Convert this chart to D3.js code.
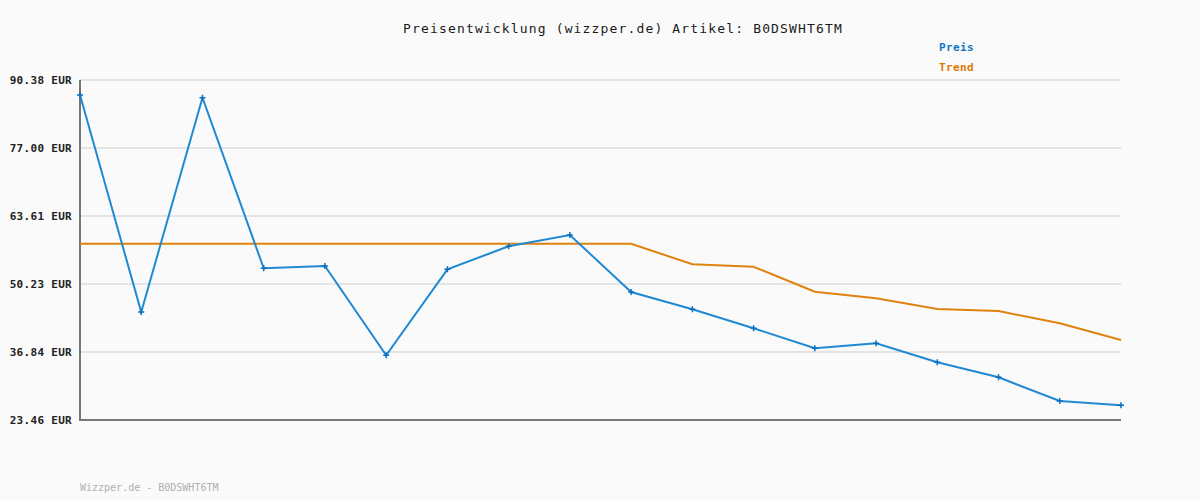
<!DOCTYPE html>
<html>
<head>
<meta charset="utf-8">
<script src="https://cdn.jsdelivr.net/npm/d3@7"></script>
<style>
  body { margin: 0; background: #fafafa; }
  svg { display: block; font-family: "DejaVu Sans Mono", monospace; }
</style>
</head>
<body>
<div id="chart"></div>
<script>
const width = 1200;
const height = 500;

const tickValues = [23.46, 36.84, 50.23, 63.61, 77.00, 90.38];
const preis = [87.43, 44.72, 86.90, 53.32, 53.77, 36.19, 53.12, 57.65, 59.87,
  48.65, 45.25, 41.51, 37.57, 38.56, 34.82, 31.86, 27.20, 26.35];
const trend = [58.16, 58.16, 58.16, 58.16, 58.16, 58.16, 58.16, 58.16, 58.16,
  58.16, 54.11, 53.63, 48.71, 47.41, 45.31, 44.91, 42.49, 39.21];

const margin = { left: 80, right: 79, top: 80, bottom: 80 };

const svg = d3.select("#chart").append("svg")
  .attr("width", width)
  .attr("height", height);

svg.append("rect").attr("width", width).attr("height", height).attr("fill", "#fafafa");

const x = d3.scaleLinear()
  .domain([0, preis.length - 1])
  .range([margin.left, width - margin.right]);

const y = d3.scaleLinear()
  .domain([tickValues[0], tickValues[tickValues.length - 1]])
  .range([height - margin.bottom, margin.top]);

// grid lines
svg.append("g")
  .selectAll("line")
  .data(tickValues)
  .join("line")
  .attr("x1", margin.left)
  .attr("x2", width - margin.right)
  .attr("y1", d => y(d))
  .attr("y2", d => y(d))
  .attr("stroke", "#e4e4e4")
  .attr("stroke-width", 2);

// y axis labels
const yAxis = d3.axisLeft(y)
  .tickValues(tickValues)
  .tickSize(0)
  .tickPadding(8)
  .tickFormat(d => d.toFixed(2) + " EUR");

svg.append("g")
  .attr("transform", `translate(${margin.left},0)`)
  .call(yAxis)
  .call(g => g.select(".domain").remove())
  .selectAll("text")
  .attr("font-family", "DejaVu Sans Mono, monospace")
  .attr("font-size", "11px")
  .attr("font-weight", "bold")
  .attr("letter-spacing", "0.3px")
  .attr("fill", "#222");

// axes lines
svg.append("line")
  .attr("x1", margin.left).attr("x2", margin.left)
  .attr("y1", margin.top).attr("y2", height - margin.bottom + 1)
  .attr("stroke", "#777").attr("stroke-width", 2);
svg.append("line")
  .attr("x1", margin.left - 1).attr("x2", width - margin.right)
  .attr("y1", height - margin.bottom).attr("y2", height - margin.bottom)
  .attr("stroke", "#777").attr("stroke-width", 2);

const line = d3.line()
  .x((d, i) => x(i))
  .y(d => y(d));

svg.append("path")
  .datum(trend)
  .attr("fill", "none")
  .attr("stroke", "#e0820e")
  .attr("stroke-width", 2)
  .attr("d", line);

svg.append("path")
  .datum(preis)
  .attr("fill", "none")
  .attr("stroke", "#2089d3")
  .attr("stroke-width", 2)
  .attr("d", line);

// plus markers
svg.append("g")
  .selectAll("path")
  .data(preis)
  .join("path")
  .attr("d", (d, i) => {
    const cx = x(i), cy = y(d);
    return `M${cx - 3},${cy}H${cx + 3}M${cx},${cy - 3}V${cy + 3}`;
  })
  .attr("stroke", "#0a6fc2")
  .attr("stroke-width", 1.5);

// title
svg.append("text")
  .attr("x", 623)
  .attr("y", 33)
  .attr("text-anchor", "middle")
  .attr("font-size", "13px")
  .attr("letter-spacing", "1.15px")
  .attr("fill", "#1a1a1a")
  .text("Preisentwicklung (wizzper.de) Artikel: B0DSWHT6TM");

// legend
const legend = [
  { name: "Preis", color: "#0a78c8" },
  { name: "Trend", color: "#dc7800" }
];
svg.append("g")
  .selectAll("text")
  .data(legend)
  .join("text")
  .attr("x", 939)
  .attr("y", (d, i) => 51 + i * 20)
  .attr("font-size", "11px")
  .attr("font-weight", "bold")
  .attr("letter-spacing", "0.4px")
  .attr("fill", d => d.color)
  .text(d => d.name);

// footer
svg.append("text")
  .attr("x", 80)
  .attr("y", 491)
  .attr("font-size", "10px")
  .attr("fill", "#b0b0b0")
  .text("Wizzper.de - B0DSWHT6TM");
</script>
</body>
</html>
